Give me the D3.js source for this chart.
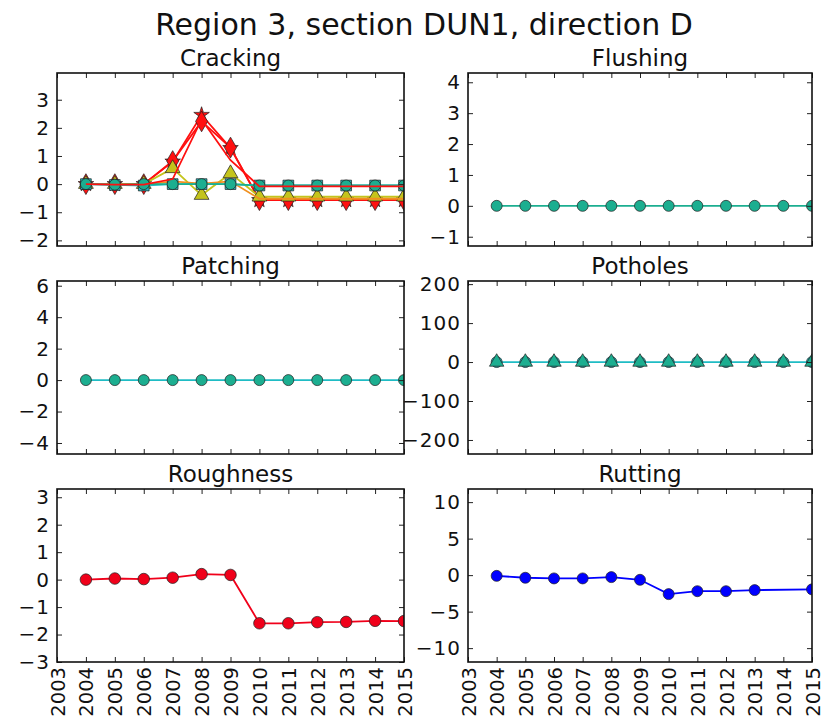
<!DOCTYPE html>
<html>
<head>
<meta charset="utf-8">
<script src="https://cdn.jsdelivr.net/npm/d3@7"></script>
<style>
body{margin:0;background:#fff;}
text{font-family:"DejaVu Sans",sans-serif;fill:#111;}
</style>
</head>
<body>
<svg id="fig" width="824" height="720"></svg>
<script>
// years with measurements, and the tick years on the x axis
var years = [2004,2005,2006,2007,2008,2009,2010,2011,2012,2013,2014,2015];
var xTicks = [2003,2004,2005,2006,2007,2008,2009,2010,2011,2012,2013,2014,2015];

// Cracking (several crack types)
var crackStar     = [0,0,0,0.8,2.46,1.28,-0.57,-0.57,-0.57,-0.57,-0.57,-0.57];
var crackDiamond  = [0,0,0,0.82,2.23,1.3,-0.57,-0.57,-0.57,-0.57,-0.57,-0.57];
var crackTriangle = [0,0,0,0.56,-0.39,0.38,-0.45,-0.45,-0.45,-0.45,-0.45,-0.45];
var crackOrange   = [0,0,-0.02,0.1,0.02,0.1,-0.52,-0.52,-0.52,-0.52,-0.52,-0.52];
var crackSquare   = [0,-0.03,-0.05,0,0,0,-0.05,-0.05,-0.05,-0.05,-0.05,-0.05];
var crackCircle   = [0,-0.02,0,0,0,0,-0.05,-0.05,-0.05,-0.05,-0.05,-0.05];
var crackRed      = [0,-0.02,-0.02,0.18,2.3,0.85,-0.08,-0.08,-0.08,-0.08,-0.08,-0.08];

var flushing = [0,0,0,0,0,0,0,0,0,0,0,0];
var patching = [0,0,0,0,0,0,0,0,0,0,0,0];
var potholes = [0,0,0,0,0,0,0,0,0,0,0,0];
var roughness = [0,0.04,0.02,0.07,0.2,0.17,-1.59,-1.59,-1.55,-1.54,-1.5,-1.51];
var rutYears = [2004,2005,2006,2007,2008,2009,2010,2011,2012,2013,2015];
var rutting = [-0.1,-0.36,-0.45,-0.45,-0.27,-0.64,-2.6,-2.2,-2.2,-2.05,-1.95];

// y ticks and limits per panel
var crackTicks = [-2,-1,0,1,2,3];
var flushTicks = [-1,0,1,2,3,4];
var patchTicks = [-4,-2,0,2,4,6];
var potTicks = [-200,-100,0,100,200];
var roughTicks = [-3,-2,-1,0,1,2,3];
var rutTicks = [-10,-5,0,5,10];

var teal = '#1cae90', cyan = '#1fbcc4', yellow = '#c4c41c', red = '#ff1010';

var panels = [
  {title:'Cracking', ticks:crackTicks, lim:[-2.2,3.95], series:[
    {x:years, y:crackStar, color:red, marker:d3.symbolStar, size:75},
    {x:years, y:crackDiamond, color:red, marker:d3.symbolDiamond, size:125},
    {x:years, y:crackTriangle, color:yellow, marker:d3.symbolTriangle, size:95},
    {x:years, y:crackOrange, color:'#f09020', marker:null},
    {x:years, y:crackSquare, color:cyan, marker:d3.symbolSquare, size:115},
    {x:years, y:crackCircle, color:teal, marker:d3.symbolCircle, size:95},
    {x:years, y:crackRed, color:red, marker:null}
  ]},
  {title:'Flushing', ticks:flushTicks, lim:[-1.3,4.3], series:[
    {x:years, y:flushing, color:teal, marker:d3.symbolCircle, size:95}
  ]},
  {title:'Patching', ticks:patchTicks, lim:[-4.7,6.3], series:[
    {x:years, y:patching, color:cyan, marker:null},
    {x:years, y:patching, color:teal, marker:d3.symbolCircle, size:95, noLine:true}
  ]},
  {title:'Potholes', ticks:potTicks, lim:[-236,208], series:[
    {x:years, y:potholes, color:cyan, marker:d3.symbolCircle, size:95},
    {x:years, y:potholes, color:teal, marker:d3.symbolTriangle, size:90, noLine:true}
  ]},
  {title:'Roughness', ticks:roughTicks, lim:[-3,3.3], series:[
    {x:years, y:roughness, color:'#f0001a', marker:d3.symbolCircle, size:105}
  ]},
  {title:'Rutting', ticks:rutTicks, lim:[-11.9,11.8], series:[
    {x:rutYears, y:rutting, color:'#0000ff', marker:d3.symbolCircle, size:95}
  ]}
];

var svg = d3.select('#fig');
var widths = [347,344], ph = 173;
var lefts = [57,468];
var tops = [73,281,489];

svg.append('text')
  .attr('x',424).attr('y',35)
  .attr('text-anchor','middle')
  .style('font-size','30px')
  .text('Region 3, section DUN1, direction D');

function fmt(v){ return v < 0 ? '\u2212' + Math.abs(v) : '' + v; }

function drawPanel(p, i){
  var left = lefts[i % 2], top = tops[Math.floor(i / 2)], pw = widths[i % 2];
  var bottomRow = Math.floor(i / 2) == 2;
  var g = svg.append('g').attr('transform','translate(' + left + ',' + top + ')');
  var x = d3.scaleLinear().domain([2003,2015]).range([0,pw]);
  var y = d3.scaleLinear().domain(p.lim).range([ph,0]);

  g.append('clipPath').attr('id','clip' + i)
    .append('rect').attr('width',pw).attr('height',ph);
  var plot = g.append('g').attr('clip-path','url(#clip' + i + ')');

  p.series.forEach(function(s){
    var pts = s.x.map(function(d,k){ return [d, s.y[k]]; });
    if(!s.noLine){
      plot.append('path')
        .datum(pts)
        .attr('fill','none')
        .attr('stroke',s.color)
        .attr('stroke-width',1.8)
        .attr('d', d3.line().x(function(d){return x(d[0])}).y(function(d){return y(d[1])}));
    }
    if(s.marker){
      plot.selectAll(null)
        .data(pts)
        .enter().append('path')
        .attr('transform',function(d){return 'translate(' + x(d[0]) + ',' + y(d[1]) + ')'})
        .attr('d', d3.symbol().type(s.marker).size(s.size))
        .attr('fill',s.color)
        .attr('stroke','#222')
        .attr('stroke-opacity',0.8)
        .attr('stroke-width',0.9);
    }
  });

  // ticks point inward on all four sides
  g.append('g').call(d3.axisLeft(y).tickValues(p.ticks).tickSize(-5).tickPadding(7).tickFormat(fmt))
    .selectAll('text').style('letter-spacing','1px');
  g.append('g').attr('transform','translate(' + pw + ',0)')
    .call(d3.axisRight(y).tickValues(p.ticks).tickSize(-5).tickFormat(''));
  g.append('g').call(d3.axisTop(x).tickValues(xTicks).tickSize(-5).tickFormat(''));
  var xb = g.append('g').attr('transform','translate(0,' + ph + ')')
    .call(d3.axisBottom(x).tickValues(xTicks).tickSize(-5).tickFormat(bottomRow ? d3.format('d') : ''));
  if(bottomRow){
    xb.selectAll('text')
      .attr('transform','rotate(-90)')
      .attr('x',-5).attr('y',0).attr('dy','0.36em')
      .style('text-anchor','end');
  }
  g.selectAll('.domain').remove();
  g.selectAll('.tick line').attr('stroke','#222').attr('stroke-width',1);
  g.selectAll('.tick text')
    .style('font-size','20px')
    .style('font-family','"DejaVu Sans",sans-serif')
    .attr('fill','#111');
  xb.selectAll('text').style('font-size','19.5px');

  g.append('rect')
    .attr('width',pw).attr('height',ph)
    .attr('fill','none')
    .attr('stroke','#111')
    .attr('stroke-width',1.6);

  g.append('text')
    .attr('x',pw / 2).attr('y',-7)
    .attr('text-anchor','middle')
    .style('font-size','23px')
    .text(p.title);
}

panels.forEach(drawPanel);
</script>
</body>
</html>
